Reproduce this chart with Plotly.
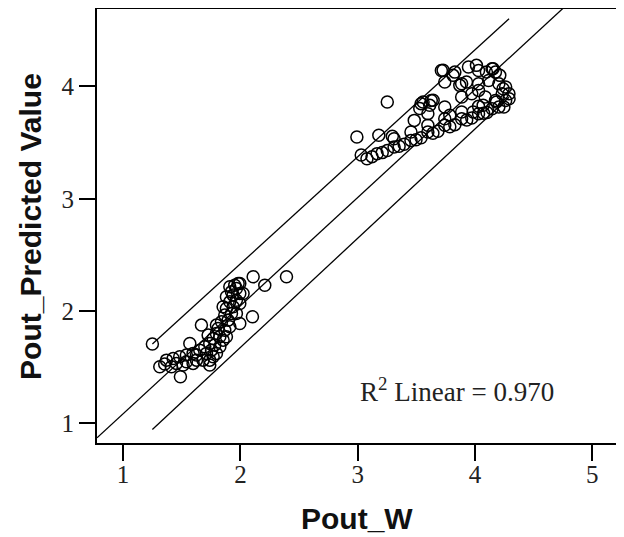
import numpy as np
import plotly.graph_objects as go

# Observed Pout_W (x) vs. predicted value (y)
pout_w = [
    # lower cluster
    1.250, 1.355, 1.489, 1.739, 2.103, 2.393, 2.208, 2.109, 1.981, 1.668, 1.569,
    1.370, 1.427, 1.483, 1.540, 1.597, 1.654, 1.697, 1.739, 1.768, 1.796, 1.810,
    1.839, 1.867, 1.881, 1.910, 1.938, 1.966, 1.995,
    1.739, 1.626, 1.796, 1.853, 1.910, 1.966, 1.995, 2.023, 1.881, 1.853, 1.995,
    1.313, 1.412, 1.512, 1.597, 1.682, 1.711, 1.626, 1.754, 1.782, 1.825, 1.825,
    1.867, 1.896, 1.924, 1.938, 1.966, 1.924, 1.952, 1.910, 1.995, 1.881, 1.768,
    1.540, 1.455, 1.725, 1.796,
    # upper cluster
    3.079, 3.165, 3.310, 3.454, 3.598, 3.742, 3.886, 4.030, 4.145, 4.261, 4.289,
    4.261, 4.203,
    3.482, 3.598, 3.742, 3.886, 4.030, 4.116, 4.174, 4.145,
    3.713, 3.742, 3.828, 3.944, 4.030,
    3.540, 3.627, 3.886, 4.030, 3.972, 4.087, 4.174, 4.203,
    3.252, 2.993, 3.180, 3.295,
    3.122, 3.209, 3.252, 3.353, 3.396, 3.497, 3.540, 3.641, 3.684, 3.785, 3.828,
    3.929, 3.972, 4.073, 4.102,
    3.310, 3.454, 3.598, 3.742, 3.886, 4.030, 4.232, 4.246,
    3.557, 3.643, 3.728, 3.927, 4.012, 4.154,
    3.813, 3.870, 4.097, 4.211, 4.239, 4.290, 4.183, 4.069, 3.984, 3.785, 3.614,
    3.529, 3.030,
]
pout_predicted = [
    1.706, 1.528, 1.415, 1.519, 1.949, 2.305, 2.230, 2.305, 2.245, 1.875, 1.711,
    1.563, 1.578, 1.593, 1.608, 1.623, 1.652, 1.682, 1.712, 1.756, 1.800, 1.845,
    1.904, 1.964, 2.023, 2.082, 2.142, 2.201, 2.245,
    1.563, 1.563, 1.623, 1.741, 1.860, 1.978, 2.067, 2.156, 2.127, 2.038, 1.889,
    1.504, 1.504, 1.519, 1.534, 1.563, 1.623, 1.608, 1.652, 1.697, 1.682, 1.771,
    1.830, 1.919, 1.978, 2.038, 2.097, 2.171, 2.230, 2.216, 2.156, 1.771, 1.593,
    1.548, 1.534, 1.786, 1.875,
    3.357, 3.402, 3.461, 3.520, 3.595, 3.654, 3.713, 3.758, 3.802, 3.876, 3.936,
    3.995, 4.025,
    3.698, 3.758, 3.817, 3.906, 3.965, 4.054, 4.128, 4.158,
    4.143, 4.040, 4.128, 4.173, 4.143,
    3.847, 3.876, 4.025, 4.025, 3.936, 3.906, 3.876, 3.817,
    3.862, 3.550, 3.565, 3.556,
    3.375, 3.411, 3.429, 3.467, 3.485, 3.526, 3.544, 3.583, 3.601, 3.642, 3.660,
    3.701, 3.719, 3.761, 3.769,
    3.535, 3.595, 3.654, 3.713, 3.773, 3.823, 3.936, 3.817,
    3.862, 3.877, 4.144, 4.040, 4.188, 4.158,
    4.099, 4.010, 4.129, 4.099, 3.980, 3.891, 3.862, 3.832, 3.773, 3.743, 3.832,
    3.803, 3.390,
]

# Linear fit and prediction interval
fit_intercept = 0.122
fit_slope = 0.963
interval_half_width = [0.38, 0.35]   # at min / max of observed x
r2_label = "R<sup>2</sup> Linear = 0.970"
x_title = "Pout_W"
y_title = "Pout_Predicted Value"

x_tick_vals = [1, 2, 3, 4, 5]
y_tick_vals = [1, 2, 3, 4]
x_range = [0.778, 5.21]
y_range = [0.825, 4.69]

xs = np.array(pout_w)
ys = np.array(pout_predicted)

fit_x = np.array(x_range)
fit_y = fit_intercept + fit_slope * fit_x
int_x = np.array([xs.min(), xs.max()])
int_fit = fit_intercept + fit_slope * int_x
upper_y = int_fit + np.array(interval_half_width)
lower_y = int_fit - np.array(interval_half_width)

fig = go.Figure()
line_style = dict(color="black", width=1.3)
fig.add_trace(go.Scatter(x=fit_x, y=fit_y, mode="lines", line=line_style,
                         showlegend=False, hoverinfo="skip"))
fig.add_trace(go.Scatter(x=int_x, y=upper_y, mode="lines", line=line_style,
                         showlegend=False, hoverinfo="skip"))
fig.add_trace(go.Scatter(x=int_x, y=lower_y, mode="lines", line=line_style,
                         showlegend=False, hoverinfo="skip"))
fig.add_trace(go.Scatter(
    x=xs, y=ys, mode="markers", showlegend=False,
    marker=dict(symbol="circle-open", size=12, color="black",
                line=dict(width=1.5, color="black")),
))

fig.add_annotation(x=3.845, y=1.296, xref="x", yref="y", text=r2_label,
                   showarrow=False,
                   font=dict(family="Liberation Serif", size=27, color="#222"))

title_font = dict(family="Liberation Sans", size=30, color="#111", weight="bold")
fig.add_annotation(x=0.5, y=-0.174, xref="paper", yref="paper", text=x_title,
                   showarrow=False, xanchor="center", yanchor="middle",
                   font=title_font)
fig.add_annotation(x=-0.129, y=0.5, xref="paper", yref="paper", text=y_title,
                   showarrow=False, xanchor="center", yanchor="middle",
                   textangle=-90, font=title_font)

tick_font = dict(family="Liberation Serif", size=25, color="#222")

fig.update_xaxes(
    range=x_range, tickvals=x_tick_vals, ticks="outside", ticklen=16,
    tickwidth=2, tickcolor="black", showline=True, linecolor="black",
    linewidth=2, mirror=True, showgrid=False, zeroline=False,
    tickfont=tick_font, automargin=False, ticklabelstandoff=-8,
)
fig.update_yaxes(
    range=y_range, tickvals=y_tick_vals, ticks="outside", ticklen=16,
    tickwidth=2, tickcolor="black", showline=True, linecolor="black",
    linewidth=2, mirror=True, showgrid=False, zeroline=False,
    tickfont=tick_font, automargin=False,
)
# page body adds an 8px offset; figure is sized so the plot lands at the same place
fig.update_layout(
    width=616, height=529,
    margin=dict(l=89, r=7, t=1, b=94),
    paper_bgcolor="white", plot_bgcolor="white",
)
fig.write_html("out.html")
